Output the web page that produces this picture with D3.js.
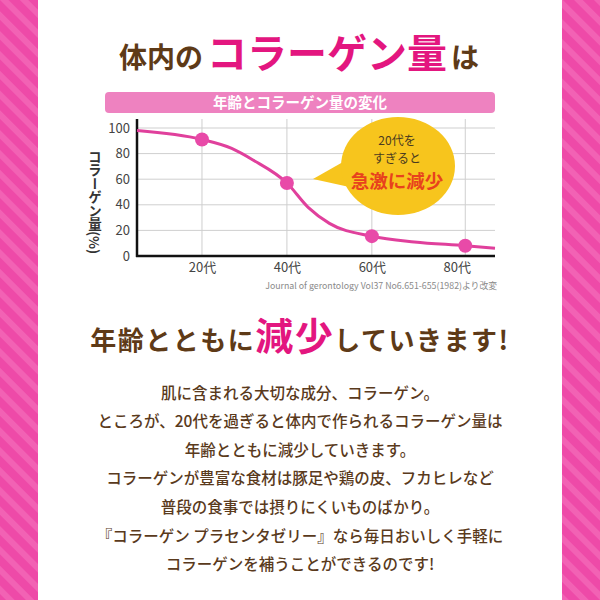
<!DOCTYPE html>
<html><head><meta charset="utf-8">
<script src="https://cdn.jsdelivr.net/npm/d3@7"></script>
<style>
html,body{margin:0;padding:0;background:#fff;}
svg{display:block;}
text{font-family:"Noto Sans CJK JP","Noto Sans",sans-serif;}
</style></head>
<body>
<svg id="c" width="600" height="600"></svg>
<script>
// ---- data ----
const curveAges   = [4.7, 20, 27, 32, 40, 45, 50, 60, 70, 82, 89];
const curveValues = [98, 91, 84, 75, 57, 38, 25.5, 15.5, 11, 8, 6];
const pointAges   = [20, 40, 60, 82];
const pointValues = [91, 57, 15.5, 8];
const tickAges    = [20, 40, 60, 80];
const tickLabels  = ["20代", "40代", "60代", "80代"];
const yTicks      = [0, 20, 40, 60, 80, 100];
const bodyLines = [
  "肌に含まれる大切な成分、コラーゲン。",
  "ところが、20代を過ぎると体内で作られるコラーゲン量は",
  "年齢とともに減少していきます。",
  "コラーゲンが豊富な食材は豚足や鶏の皮、フカヒレなど",
  "普段の食事では摂りにくいものばかり。",
  "『コラーゲン プラセンタゼリー』なら毎日おいしく手軽に",
  "コラーゲンを補うことができるのです!"
];

const svg = d3.select("#c");
const brown = "#5e3a17", pink = "#e3167f";

// background stripes
const defs = svg.append("defs");
const pat = defs.append("pattern").attr("id","stripes").attr("patternUnits","userSpaceOnUse")
  .attr("width",14).attr("height",14).attr("patternTransform","rotate(-45)");
pat.append("rect").attr("width",14).attr("height",14).attr("fill","#ee4aa8");
pat.append("rect").attr("width",6).attr("height",14).attr("fill","#f262b4");
svg.append("rect").attr("width",600).attr("height",600).attr("fill","url(#stripes)");
svg.append("rect").attr("x",38).attr("y",0).attr("width",524).attr("height",600).attr("fill","#fff");

// title
const t1 = svg.append("text").attr("x",299).attr("y",68).attr("text-anchor","middle")
  .attr("font-weight",700);
t1.append("tspan").text("体内の").attr("font-size",28).attr("fill",brown);
t1.append("tspan").text("コラーゲン量").attr("font-size",40).attr("fill",pink).attr("dx",4);
t1.append("tspan").text("は").attr("font-size",28).attr("fill",brown).attr("dx",4);

// chart header bar
svg.append("rect").attr("x",105).attr("y",92).attr("width",390).attr("height",21).attr("rx",4)
  .attr("fill","#ee82c0");
svg.append("text").attr("x",300).attr("y",108).attr("text-anchor","middle")
  .attr("font-size",14.5).attr("font-weight",700).attr("fill","#fff").text("年齢とコラーゲン量の変化");

// scales
const x = d3.scaleLinear().domain([4.7, 89]).range([137, 495]);
const y = d3.scaleLinear().domain([0, 100]).range([256, 128]);

// grid
const g = svg.append("g");
g.selectAll(".hg").data(yTicks.filter(d=>d>0)).join("line")
  .attr("x1",x(4.7)).attr("x2",x(89)).attr("y1",d=>y(d)).attr("y2",d=>y(d))
  .attr("stroke","#cfcfcf").attr("stroke-width",1);
g.selectAll(".vg").data(pointAges).join("line")
  .attr("x1",d=>x(d)).attr("x2",d=>x(d)).attr("y1",119).attr("y2",y(0))
  .attr("stroke","#cfcfcf").attr("stroke-width",1);

// y tick labels
const yAxis = d3.axisLeft(y).tickValues(yTicks).tickSize(0).tickPadding(7);
const ya = svg.append("g").attr("transform",`translate(${x(4.7)},0)`).call(yAxis);
ya.select(".domain").remove();
ya.selectAll("text").attr("font-size",13).attr("fill","#444")
  .attr("font-family","'Noto Sans',sans-serif");

// x tick labels
const xa = svg.append("g").attr("transform",`translate(0,${y(0)})`)
  .call(d3.axisBottom(x).tickValues(tickAges).tickFormat((d,i)=>tickLabels[i]).tickSize(0).tickPadding(7));
xa.select(".domain").remove();
xa.selectAll("text").attr("font-size",13).attr("fill","#444");

// axes lines
svg.append("line").attr("x1",x(4.7)).attr("x2",x(4.7)).attr("y1",119).attr("y2",y(0)+1)
  .attr("stroke","#111").attr("stroke-width",2.5);
svg.append("line").attr("x1",x(4.7)-1).attr("x2",x(89)).attr("y1",y(0)).attr("y2",y(0))
  .attr("stroke","#111").attr("stroke-width",2.5);

// y-axis title (vertical)
svg.append("text").attr("x",95).attr("y",150)
  .style("writing-mode","vertical-rl").attr("font-size",13.5).attr("font-weight",700)
  .attr("fill","#333").text("コラーゲン量(%)");

// curve
const line = d3.line().x(d=>x(d[0])).y(d=>y(d[1])).curve(d3.curveMonotoneX);
svg.append("path").datum(curveAges.map((a,i)=>[a,curveValues[i]]))
  .attr("d",line).attr("fill","none").attr("stroke","#e0409c").attr("stroke-width",3);

svg.selectAll(".pt").data(pointAges.map((a,i)=>[a,pointValues[i]])).join("circle")
  .attr("cx",d=>x(d[0])).attr("cy",d=>y(d[1])).attr("r",7).attr("fill","#e84aa8");

// source
svg.append("text").attr("x",497).attr("y",289).attr("text-anchor","end")
  .attr("font-size",8.8).attr("fill","#8a8a8a")
  .text("Journal of gerontology Vol37 No6.651-655(1982)より改変");

// callout bubble
svg.append("path").attr("d","M313,179 L350,158 L354,188 Z").attr("fill","#f7c51d");
svg.append("ellipse").attr("cx",398).attr("cy",166).attr("rx",57).attr("ry",49)
  .attr("fill","#f7c51d");
svg.append("text").attr("x",397).attr("y",145).attr("text-anchor","middle")
  .attr("font-size",12).attr("fill","#4a3a20").text("20代を");
svg.append("text").attr("x",397).attr("y",163).attr("text-anchor","middle")
  .attr("font-size",12).attr("fill","#4a3a20").text("すぎると");
svg.append("text").attr("x",397).attr("y",188).attr("text-anchor","middle")
  .attr("font-size",18.5).attr("font-weight",700).attr("fill","#e8421d").text("急激に減少");

// headline 2
const t2 = svg.append("text").attr("x",300).attr("y",350).attr("text-anchor","middle")
  .attr("font-weight",700);
t2.append("tspan").text("年齢とともに").attr("font-size",26).attr("letter-spacing",1.5).attr("fill",brown);
t2.append("tspan").text("減少").attr("font-size",38).attr("letter-spacing",1.5).attr("fill",pink);
t2.append("tspan").text("していきます!").attr("font-size",26).attr("letter-spacing",1.5).attr("fill",brown);

// body
svg.selectAll(".body").data(bodyLines).join("text")
  .attr("x",300).attr("y",(d,i)=>398.5 + i*28.6).attr("text-anchor","middle")
  .attr("font-size",15.5).attr("font-weight",500).attr("fill","#5a3a1c").text(d=>d);
</script>
</body></html>
